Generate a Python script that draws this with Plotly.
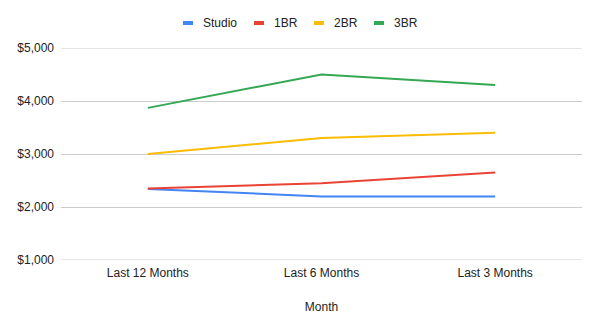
import plotly.graph_objects as go

categories = ["Last 12 Months", "Last 6 Months", "Last 3 Months"]
studio = [2340, 2200, 2200]
br1 = [2350, 2450, 2650]
br2 = [3000, 3300, 3400]
br3 = [3870, 4500, 4300]
series_names = ["Studio", "1BR", "2BR", "3BR"]
colors = ["#4285F4", "#EA4335", "#FBBC04", "#34A853"]
y_ticks = [1000, 2000, 3000, 4000, 5000]
y_tick_labels = ["$1,000", "$2,000", "$3,000", "$4,000", "$5,000"]

W, H = 600, 329
ML, MR, MT, MB = 61, 18, 48, 69
PW, PH = W - ML - MR, H - MT - MB

def px2paper_x(px):
    return (px - ML) / PW

def px2paper_y(py):
    return (H - MB - py) / PH

fig = go.Figure()
for name, vals, col in zip(series_names, [studio, br1, br2, br3], colors):
    fig.add_trace(go.Scatter(x=categories, y=vals, name=name, mode="lines",
                             line=dict(color=col, width=2), showlegend=False))

# custom legend (short thick swatches like the reference)
legend_x = [182, 253, 313, 373]
legend_y = 23
for name, col, lx in zip(series_names, colors, legend_x):
    fig.add_shape(type="line", xref="paper", yref="paper",
                  x0=px2paper_x(lx + 1), x1=px2paper_x(lx + 11),
                  y0=px2paper_y(legend_y), y1=px2paper_y(legend_y),
                  line=dict(color=col, width=4))
    fig.add_annotation(text=name, xref="paper", yref="paper",
                       x=px2paper_x(lx + 19), y=px2paper_y(legend_y),
                       xanchor="left", yanchor="middle", showarrow=False,
                       font=dict(size=12, color="#222222"))

font = "Liberation Sans, Arial, sans-serif"
fig.update_layout(
    width=W, height=H,
    margin=dict(l=ML, r=MR, t=MT, b=MB, autoexpand=False),
    paper_bgcolor="white", plot_bgcolor="white",
    font=dict(family=font, size=12, color="#222222"),
    showlegend=False,
    xaxis=dict(title=dict(text="Month", font=dict(size=12, color="#222222"), standoff=23),
               range=[-0.5, 2.5], showgrid=False, showline=False, ticks="",
               ticklabelstandoff=4, tickfont=dict(size=12, color="#222222")),
    yaxis=dict(range=[1000, 5000], tickvals=y_ticks, ticktext=y_tick_labels,
               gridcolor="#cccccc", gridwidth=1, showline=False, zeroline=False,
               ticks="", ticklabelstandoff=6, tickfont=dict(size=12, color="#222222")),
)
# gridlines at the range edges are drawn explicitly so they are not clipped away
for v in [1000, 5000]:
    fig.add_shape(type="line", xref="paper", yref="y", x0=0, x1=1, y0=v, y1=v,
                  line=dict(color="#cccccc", width=1), layer="below")
fig.write_html("out.html")
